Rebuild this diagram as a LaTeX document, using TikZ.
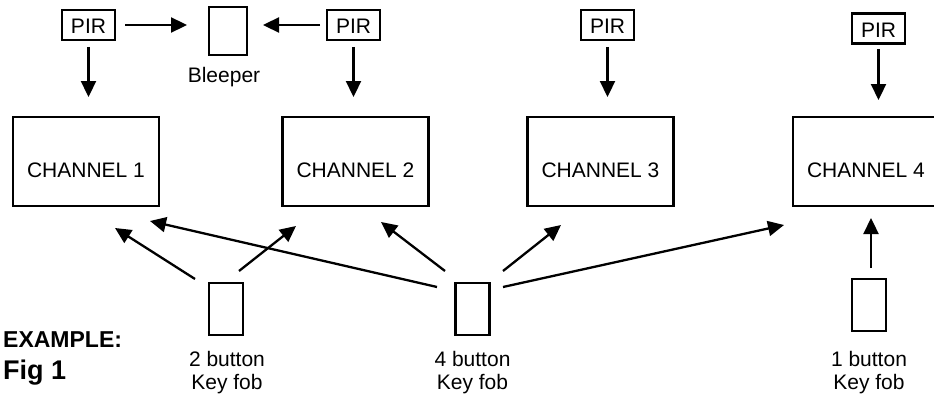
\documentclass[tikz,border=0pt]{standalone}
\usepackage{fontspec}
\setmainfont{Liberation Sans}
\usetikzlibrary{arrows.meta}
\begin{document}
\begin{tikzpicture}[x=1pt,y=-1pt,
  every node/.style={font=\fontsize{21}{23}\selectfont},
  boxed/.style={draw,line width=2.3pt,inner sep=0pt,outer sep=0pt},
  pirbox/.style={boxed,minimum width=53pt,minimum height=30pt},
  chbox/.style={boxed,minimum width=146pt,minimum height=89pt},
  fob/.style={boxed,minimum width=34pt,minimum height=52pt},
  txt/.style={anchor=base,inner sep=0pt},
  arr/.style={line width=2.3pt,-{Triangle[length=16pt,width=15pt]}}]
\useasboundingbox (0,0) rectangle (934,396);
% PIR sensors
\node[pirbox] (p1) at (88.5,25) {};
\node[txt] (p1t) at (88.5,34) {PIR};
\node[pirbox] (p2) at (353.5,25) {};
\node[txt] (p2t) at (353.5,34) {PIR};
\node[pirbox] (p3) at (607.5,25) {};
\node[txt] (p3t) at (607.5,34) {PIR};
\node[pirbox] (p4) at (878.5,28.5) {};
\node[txt] (p4t) at (878.5,37.5) {PIR};
% Bleeper
\node[boxed,minimum width=38pt,minimum height=48pt] (bl) at (228,31) {};
\node[txt] (blt) at (224,82) {Bleeper};
% Channels
\node[chbox] (c1) at (86,161.5) {};
\node[txt] (c1t) at (86,177) {CHANNEL 1};
\node[chbox] (c2) at (355.5,161.5) {};
\node[txt] (c2t) at (355.5,177) {CHANNEL 2};
\node[chbox] (c3) at (600.5,161.5) {};
\node[txt] (c3t) at (600.5,177) {CHANNEL 3};
\node[chbox] (c4) at (866,161.5) {};
\node[txt] (c4t) at (866,177) {CHANNEL 4};
% Key fobs
\node[fob] (f2) at (226,309) {};
\node[txt,align=center] (f2t) at (227,389) {2 button\\Key fob};
\node[fob] (f4) at (472.5,309) {};
\node[txt,align=center] (f4t) at (472.5,389) {4 button\\Key fob};
\node[fob] (f1) at (869,305) {};
\node[txt,align=center] (f1t) at (869,389) {1 button\\Key fob};
% Example label
\node[anchor=base west,inner sep=0pt,font=\fontsize{23}{26}\selectfont\bfseries] (ex) at (3,347) {EXAMPLE:};
\node[anchor=base west,inner sep=0pt,font=\fontsize{27}{30}\selectfont\bfseries] (fig) at (3,379) {Fig 1};
% PIR arrows
\draw[arr,shorten <=10pt,shorten >=22pt] (p1.east) -- (p1.east -| bl.west);
\draw[arr,shorten <=7pt,shorten >=16pt] (p2.west) -- (p2.west -| bl.east);
\draw[arr,shorten <=7pt,shorten >=20pt] (p1.south) -- (p1.south |- c1.north);
\draw[arr,shorten <=7pt,shorten >=20pt] (p2.south) -- (p2.south |- c2.north);
\draw[arr,shorten <=7pt,shorten >=20pt] (p3.south) -- (p3.south |- c3.north);
\draw[arr,shorten <=6pt,shorten >=17pt] (p4.south) -- (p4.south |- c4.north);
% Key fob arrow end points
\coordinate (a21s) at (195,279);  \coordinate (a21e) at (115,228);
\coordinate (a22s) at (239,271);  \coordinate (a22e) at (296,226);
\coordinate (a41s) at (437,287);  \coordinate (a41e) at (150,221);
\coordinate (a42s) at (445,271);  \coordinate (a42e) at (381,222);
\coordinate (a43s) at (503,271);  \coordinate (a43e) at (561,225);
\coordinate (a44s) at (503,287);  \coordinate (a44e) at (784,225);
\coordinate (a11s) at (871,268);  \coordinate (a11e) at (871,218);
\draw[arr] (a21s) -- (a21e);
\draw[arr] (a22s) -- (a22e);
\draw[arr] (a41s) -- (a41e);
\draw[arr] (a42s) -- (a42e);
\draw[arr] (a43s) -- (a43e);
\draw[arr] (a44s) -- (a44e);
\draw[arr] (a11s) -- (a11e);
\end{tikzpicture}
\end{document}
